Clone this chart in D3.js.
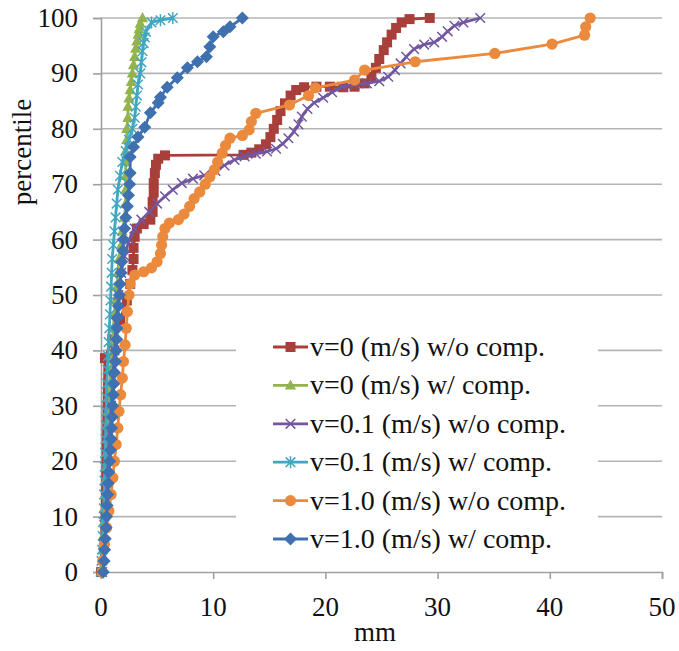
<!DOCTYPE html>
<html><head><meta charset="utf-8">
<script src="https://cdn.jsdelivr.net/npm/d3@7"></script>
</head>
<body style="margin:0">
<svg id="chart" width="679" height="651"></svg>
<script>
// ---- data: [mm, percentile] ----
const xTicks = [0, 10, 20, 30, 40, 50];
const yTicks = [0, 10, 20, 30, 40, 50, 60, 70, 80, 90, 100];
const xLabel = "mm";
const yLabel = "percentile";

const v0NoComp = [[0,0],[0.35,38.6],[1.0,42],[1.7,45.5],[2.3,49],[2.6,52],[2.8,54.5],[2.9,56.5],[2.9,58.5],[3.0,60.5],[3.2,62],[3.8,62.8],[4.4,63.6],[4.6,65],[4.6,66.8],[4.7,68.5],[4.7,70.2],[4.8,72],[4.9,73.5],[5.1,74.6],[5.7,75.2],[12.7,75.3],[13.4,75.7],[14.1,76.3],[14.7,77.2],[15.1,78.5],[15.4,80],[15.7,81.6],[16.0,83.2],[16.4,84.6],[16.9,86],[17.4,87],[18.1,87.5],[19.2,87.6],[20.4,87.6],[21.6,87.5],[22.6,87.6],[23.5,88.2],[24.1,89.4],[24.5,91],[24.8,92.6],[25.2,94.2],[25.5,95.6],[25.9,97],[26.3,98.2],[26.8,99.2],[27.5,99.8],[29.3,100]];

const v0Comp = [[0,0],[0.1,2],[0.15,4],[0.2,6.5],[0.25,9],[0.3,11.5],[0.35,14],[0.4,16.5],[0.45,19],[0.5,21.5],[0.55,24],[0.6,26.5],[0.65,29],[0.7,31.5],[0.8,34],[0.85,36.5],[0.9,39],[1.0,41.5],[1.1,44],[1.2,46.5],[1.3,49],[1.4,51.5],[1.5,54],[1.6,56.5],[1.8,59],[1.9,61.5],[2.1,64],[2.2,66.5],[2.2,69],[2.2,71.5],[2.2,74],[2.2,76],[2.3,78],[2.3,80],[2.4,82],[2.4,84],[2.5,85.5],[2.6,87],[2.7,88.5],[2.8,90],[2.9,91.5],[3.0,93],[3.1,94.5],[3.2,95.8],[3.3,97],[3.4,98],[3.5,99],[3.7,100]];

const v01NoComp = [[0.1,0],[0.2,5],[0.3,10],[0.45,15],[0.6,20],[0.75,25],[0.9,30],[1.05,35],[1.2,40],[1.35,45],[1.55,50],[1.8,54],[2.1,57],[2.5,60],[3.0,62],[3.6,63.6],[4.3,65],[5.0,66.5],[5.7,67.8],[6.4,69],[7.2,70.2],[8.2,71],[9.2,71.6],[10.2,72.4],[11.0,73.4],[11.9,74.4],[12.8,75],[13.8,75.5],[14.8,75.9],[15.6,76.4],[16.2,77.3],[16.7,78.3],[17.2,79.5],[17.6,80.8],[17.9,82.2],[18.4,83.6],[19.0,84.7],[19.8,85.6],[20.6,86.6],[21.5,87.6],[22.6,88],[23.7,88.2],[24.8,88.6],[25.6,89.4],[26.2,90.6],[26.7,91.8],[27.2,93],[27.9,94.4],[28.8,95.2],[29.7,95.6],[30.4,96.6],[30.9,97.6],[31.5,98.6],[32.3,99.2],[33.8,100]];

const v01Comp = [[0,0],[0.05,2],[0.1,4],[0.15,6.5],[0.2,9],[0.25,11.5],[0.28,14],[0.3,16.5],[0.33,19],[0.36,21.5],[0.4,24],[0.43,26.5],[0.46,29],[0.5,31.5],[0.53,34],[0.57,36.5],[0.62,39],[0.68,41.5],[0.74,44],[0.8,46.5],[0.85,49],[0.9,51.5],[0.95,54],[1.0,56.5],[1.1,59],[1.2,61.5],[1.3,64],[1.4,66.5],[1.5,69],[1.7,71.5],[1.9,74],[2.2,76],[2.5,78],[2.8,80],[3.0,82],[3.1,84],[3.2,86],[3.3,88],[3.5,90],[3.6,92],[3.7,94],[3.8,95.5],[3.9,96.5],[4.0,97.5],[4.5,99.2],[5.3,99.6],[6.4,100]];

const v1NoComp = [[0.1,0],[0.15,2],[0.3,5],[0.5,8],[0.7,11],[0.9,14],[1.05,17],[1.2,20],[1.35,23],[1.5,26],[1.6,29],[1.75,32],[1.9,35],[2.0,38],[2.15,41],[2.25,44],[2.35,47],[2.5,50],[2.6,52],[3.0,53.6],[3.8,54.2],[4.5,54.9],[5.0,56],[5.3,57.5],[5.4,59],[5.5,60.5],[5.7,62],[6.1,63],[6.9,63.6],[7.4,64.6],[7.9,66],[8.3,67.4],[8.8,68.6],[9.3,70],[9.7,71.3],[10.1,72.6],[10.4,74],[10.8,75.6],[11.1,77],[11.5,78.3],[12.6,78.8],[13.2,79.8],[13.4,81.3],[13.8,82.8],[16.8,84.3],[18.5,86],[19.1,87.4],[22.6,88.8],[23.5,90.6],[28.0,92.1],[35.1,93.6],[40.2,95.3],[43.1,96.9],[43.2,98.4],[43.6,100]];

const v1Comp = [[0.2,0],[0.28,2],[0.33,4],[0.38,6],[0.45,8],[0.5,10],[0.55,12],[0.6,14],[0.65,16],[0.7,18],[0.78,20],[0.85,22],[0.9,24],[0.95,26],[1.0,28],[1.05,30],[1.1,32],[1.15,34],[1.2,36],[1.3,38],[1.35,40],[1.4,42],[1.45,44],[1.5,46],[1.55,48],[1.65,50],[1.7,52],[1.8,54],[1.85,56],[1.95,58],[2.0,60],[2.1,62],[2.2,64],[2.35,66],[2.45,68],[2.55,70],[2.6,72],[2.6,74.9],[2.9,76.7],[3.3,78.5],[3.9,80.3],[4.4,82.9],[5.1,84.7],[5.3,85.7],[5.9,87.5],[6.8,89.2],[7.7,91],[8.6,92.1],[9.4,93],[9.7,94.8],[10.0,96.6],[10.9,97.5],[11.5,98.4],[12.6,100]];

const seriesNames = ["v=0 (m/s) w/o comp.","v=0 (m/s) w/ comp.","v=0.1 (m/s) w/o comp.","v=0.1 (m/s) w/ comp.","v=1.0 (m/s) w/o comp.","v=1.0 (m/s) w/ comp."];
const seriesData = [v0NoComp, v0Comp, v01NoComp, v01Comp, v1NoComp, v1Comp];
const seriesColors = ["#A83F3B","#93B34C","#7257A0","#41A6C2","#EB8A3C","#3F70AF"];
const seriesMarkers = ["square","triangle","x","asterisk","circle","diamond"];

const FONT = "'Liberation Serif'";

// ---- drawing ----
const svg = d3.select("#chart");
const x = d3.scaleLinear().domain([0, 50]).range([101, 662]);
const y = d3.scaleLinear().domain([0, 100]).range([572, 18]);

function label(sel, size) {
  sel.style("font-family", FONT).style("font-size", size + "px").attr("fill", "#111");
}

// gridlines
svg.append("g").selectAll("line").data(yTicks.filter(d => d > 0)).join("line")
  .attr("x1", x(0)).attr("x2", x(50))
  .attr("y1", d => y(d)).attr("y2", d => y(d))
  .attr("stroke", "#b4b4b4").attr("stroke-width", 1.6);

// y axis (lines from d3 axis, labels as plain texts)
const yAxis = svg.append("g").attr("transform", `translate(${x(0)},0)`)
  .call(d3.axisLeft(y).tickValues(yTicks).tickSize(8).tickFormat(""));
yAxis.select(".domain").attr("stroke", "#a0a0a0").attr("stroke-width", 1.6);
yAxis.selectAll(".tick line").attr("stroke", "#a0a0a0").attr("stroke-width", 1.6);
yAxis.selectAll(".tick text").remove();
svg.append("g").selectAll("text").data(yTicks).join("text")
  .attr("x", 78).attr("y", d => y(d) + 9).attr("text-anchor", "end")
  .text(d => d).call(label, 27);

// x axis
const xAxis = svg.append("g").attr("transform", `translate(0,${y(0)})`)
  .call(d3.axisBottom(x).tickValues(xTicks).tickSize(7).tickFormat(""));
xAxis.select(".domain").attr("stroke", "#a0a0a0").attr("stroke-width", 1.6);
xAxis.selectAll(".tick line").attr("stroke", "#a0a0a0").attr("stroke-width", 1.6);
xAxis.selectAll(".tick text").remove();
svg.append("g").selectAll("text").data(xTicks).join("text")
  .attr("x", d => x(d)).attr("y", 616).attr("text-anchor", "middle")
  .text(d => d).call(label, 27);

// axis titles
svg.append("text").attr("x", 375).attr("y", 641).attr("text-anchor", "middle").text(xLabel).call(label, 27);
svg.append("text").attr("transform", "translate(31,152) rotate(-90)").attr("text-anchor", "middle").text(yLabel).call(label, 27);

// marker drawer
function drawMarker(g, type, color) {
  if (type === "square") {
    g.append("rect").attr("x", -5).attr("y", -5).attr("width", 10).attr("height", 10).attr("fill", color);
  } else if (type === "triangle") {
    g.append("path").attr("d", "M0,-6L5.6,4.2L-5.6,4.2Z").attr("fill", color);
  } else if (type === "circle") {
    g.append("circle").attr("r", 5.6).attr("fill", color);
  } else if (type === "diamond") {
    g.append("path").attr("d", "M0,-6.5L6.5,0L0,6.5L-6.5,0Z").attr("fill", color);
  } else if (type === "x") {
    g.append("path").attr("d", "M-4.8,-4.8L4.8,4.8M-4.8,4.8L4.8,-4.8").attr("stroke", color).attr("stroke-width", 1.5).attr("fill", "none");
  } else if (type === "asterisk") {
    g.append("path").attr("d", "M-4.8,-4.8L4.8,4.8M-4.8,4.8L4.8,-4.8M0,-6L0,6").attr("stroke", color).attr("stroke-width", 1.5).attr("fill", "none");
  }
}

const line = d3.line().x(d => x(d[0])).y(d => y(d[1]));

seriesData.forEach((data, i) => {
  const g = svg.append("g");
  g.append("path").datum(data).attr("d", line).attr("fill", "none")
    .attr("stroke", seriesColors[i]).attr("stroke-width", 2.8).attr("stroke-linejoin", "round");
  g.selectAll("g.m").data(data).join("g").attr("class", "m")
    .attr("transform", d => `translate(${x(d[0])},${y(d[1])})`)
    .each(function () { drawMarker(d3.select(this), seriesMarkers[i], seriesColors[i]); });
});

// legend
const leg = svg.append("g");
leg.append("rect").attr("x", 236).attr("y", 326).attr("width", 362).attr("height", 232).attr("fill", "#fff");
seriesNames.forEach((name, i) => {
  const cy = 347 + i * 38.4;
  const row = leg.append("g").attr("transform", `translate(0,${cy})`);
  row.append("line").attr("x1", 273).attr("x2", 308).attr("y1", 0).attr("y2", 0)
    .attr("stroke", seriesColors[i]).attr("stroke-width", 2.8);
  const m = row.append("g").attr("transform", "translate(290.5,0)");
  drawMarker(m, seriesMarkers[i], seriesColors[i]);
  row.append("text").attr("x", 310).attr("y", 9).text(name).call(label, 28);
});
</script>
</body></html>
